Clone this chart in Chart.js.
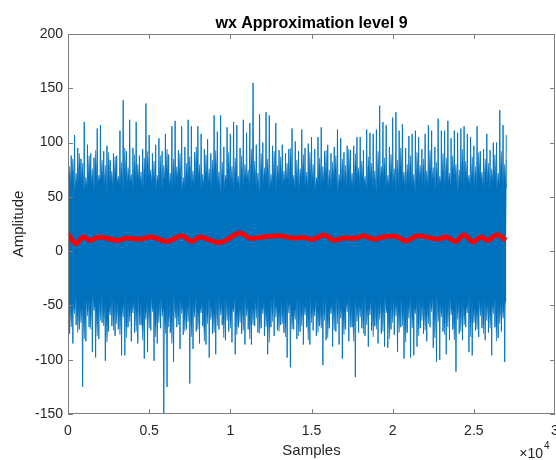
<!DOCTYPE html>
<html>
<head>
  <title>wx Approximation level 9</title>
  <style>
    body { margin: 0; background: #fff; }
    #plot { display: block; }
  </style>
</head>
<body>
  <canvas id="plot" width="556" height="460"></canvas>

  <script src="https://cdn.jsdelivr.net/npm/chart.js"></script>
  <script>
    const titleText = 'wx Approximation level 9';
    const xLabel = 'Samples';
    const yLabel = 'Amplitude';

    // blue signal: outer peak per 200-sample bin (upper), outer trough per bin (lower)
    const binStep = 200;
    const peaksUp = [
      92, 88, 107, 95, 85, 119, 98, 90, 86, 113, 116, 92, 97, 84, 90, 88, 111, 139, 92, 121,
      95, 119, 88, 94, 136, 107, 90, 98, 104, 92, 108, 89, 115, 120, 93, 115, 96, 121, 115, 91,
      115, 108, 94, 103, 90, 125, 110, 125, 96, 114, 108, 119, 116, 95, 121, 109, 118, 155, 98, 126,
      100, 128, 125, 97, 118, 93, 98, 90, 94, 113, 101, 92, 112, 95, 99, 105, 94, 105, 114, 92,
      98, 90, 96, 112, 104, 91, 97, 93, 97, 105, 105, 93, 112, 109, 108, 112, 134, 119, 116, 96,
      123, 128, 111, 117, 95, 106, 108, 111, 105, 94, 108, 116, 111, 96, 122, 111, 111, 120, 104, 111,
      109, 113, 115, 108, 105, 97, 115, 92, 94, 108, 93, 100, 100, 130, 116, 107
    ];
    const peaksDown = [
      -76, -85, -68, -72, -125, -83, -70, -93, -98, -81, -66, -101, -74, -69, -78, -72, -96, -96, -70, -83,
      -75, -85, -68, -99, -93, -73, -101, -85, -71, -150, -125, -75, -102, -70, -90, -77, -72, -122, -90, -74,
      -85, -69, -86, -98, -76, -95, -72, -68, -82, -74, -84, -95, -70, -76, -86, -72, -86, -69, -75, -71,
      -78, -95, -70, -78, -73, -68, -75, -98, -107, -72, -81, -74, -86, -70, -86, -73, -78, -69, -105, -82,
      -71, -88, -74, -86, -99, -72, -83, -70, -116, -75, -71, -78, -88, -73, -69, -85, -76, -88, -89, -72,
      -77, -93, -70, -99, -75, -98, -96, -88, -71, -76, -83, -70, -89, -102, -100, -74, -95, -82, -72, -111,
      -76, -82, -70, -93, -96, -73, -79, -71, -82, -75, -96, -70, -80, -74, -102
    ];

    // dense part of the signal: ragged upper edge (notch, then spike, each bin)
    const notchUp = [
      55, 60, 52, 58, 63, 54, 57, 61, 53, 59, 64, 56, 52, 60, 55, 62, 58, 53, 57, 63,
      54, 59, 61, 52, 56, 64, 58, 55, 60, 53, 62, 57, 54, 59, 63, 52, 56, 61, 58, 55,
      64, 53, 57, 60, 54, 62, 59, 52, 56, 63, 58, 55, 61, 53, 57, 64, 54, 60, 56, 52,
      59, 62, 55, 58, 53, 63, 57, 60, 54, 61, 56, 52, 64, 58, 55, 59, 53, 62, 57, 60,
      54, 56, 63, 52, 59, 61, 55, 58, 53, 64, 57, 60, 54, 62, 56, 52, 59, 63, 55, 58,
      61, 53, 57, 64, 54, 60, 56, 52, 62, 59, 55, 58, 63, 53, 57, 61, 54, 60, 56, 64,
      52, 59, 55, 62, 58, 53, 57, 63, 54, 60, 56, 61, 55, 59, 52, 58
    ];
    const midUp = [
      78, 85, 72, 90, 81, 68, 88, 76, 93, 70, 84, 79, 91, 74, 87, 69, 82, 95, 77, 71,
      89, 80, 73, 86, 92, 75, 83, 70, 88, 79, 94, 72, 85, 78, 90, 68, 81, 87, 74, 96,
      80, 71, 89, 76, 84, 93, 73, 82, 70, 91, 78, 86, 69, 88, 80, 75, 94, 83, 72, 90,
      77, 85, 71, 92, 79, 87, 74, 81, 95, 70, 84, 76, 89, 73, 91, 80, 68, 86, 78, 93,
      75, 82, 88, 71, 85, 79, 94, 72, 90, 77, 83, 69, 87, 81, 74, 92, 78, 86, 70, 89,
      76, 84, 95, 73, 80, 88, 71, 91, 79, 85, 74, 93, 77, 82, 69, 90, 86, 72, 88, 80,
      75, 94, 83, 70, 87, 78, 91, 73, 85, 81, 76, 89, 72, 92, 80, 84
    ];
    // ragged lower edge (spike, then notch, each bin)
    const midDown = [
      -62, -70, -58, -75, -66, -81, -60, -72, -55, -78, -64, -69, -84, -59, -73, -67, -77, -61, -80, -65,
      -57, -74, -68, -82, -63, -71, -56, -79, -66, -60, -76, -70, -85, -62, -68, -58, -74, -65, -79, -61,
      -72, -57, -83, -67, -63, -75, -69, -59, -80, -64, -71, -56, -77, -66, -73, -60, -81, -68, -62, -76,
      -58, -70, -84, -65, -61, -74, -67, -79, -57, -72, -63, -78, -69, -59, -82, -66, -60, -75, -71, -64,
      -80, -58, -73, -67, -62, -77, -56, -70, -83, -65, -61, -76, -68, -59, -79, -72, -63, -74, -57, -81,
      -66, -60, -75, -69, -84, -62, -71, -58, -78, -64, -73, -67, -56, -80, -65, -61, -77, -70, -59, -82,
      -63, -74, -68, -57, -79, -66, -72, -60, -76, -64, -71, -58, -83, -67, -62
    ];
    const notchDown = [
      -42, -47, -39, -44, -50, -41, -45, -38, -48, -43, -40, -46, -51, -39, -44, -42, -49, -37, -45, -47,
      -41, -38, -46, -50, -43, -40, -48, -44, -39, -52, -42, -45, -37, -47, -41, -49, -44, -40, -46, -38,
      -50, -43, -45, -39, -48, -42, -41, -47, -37, -44, -51, -40, -46, -43, -38, -49, -45, -42, -39, -47,
      -44, -50, -41, -38, -46, -43, -48, -40, -45, -52, -39, -42, -47, -44, -37, -49, -41, -46, -43, -40,
      -48, -45, -38, -42, -50, -44, -39, -47, -41, -46, -43, -37, -49, -40, -45, -48, -42, -38, -51, -44,
      -41, -46, -39, -47, -43, -40, -50, -45, -38, -42, -48, -44, -41, -37, -46, -49, -43, -39, -47, -40,
      -45, -42, -50, -38, -44, -48, -41, -46, -39, -43, -47, -40, -45, -42, -49, -44
    ];

    // approximation (red)
    const approxX = [
      0, 493, 924, 1355, 1971, 3018, 3634, 4435, 5174, 6098, 7022, 7638, 8131, 9363, 10595, 11211, 12012, 13059,
      13860, 14476, 15154, 15770, 16386, 16940, 17741, 18234, 18850, 19404, 20205, 20821, 21560, 22792, 23285,
      23901, 24394, 24948, 25441, 25872, 26426, 26981
    ];
    const approxY = [
      15.7, 7, 13, 10, 13, 10, 12, 11, 13, 9, 14, 9, 13, 8, 16.5, 12, 13, 14,
      12, 12.5, 11, 15, 10, 12, 12, 14, 11, 13, 13.5, 9.5, 14, 11, 13,
      9, 15, 8.5, 13, 10, 15, 10
    ];

    const lastSample = 27000;
    const xTicks = { min: 0, max: 30000, step: 5000, scale: 10000 };
    const yTicks = { min: -150, max: 200, step: 50 };

    const blue = '#0072BD';
    const font = '"Liberation Sans", Arial, sans-serif';

    const outer = [];
    peaksUp.forEach((v, i) => {
      outer.push({ x: i * binStep, y: v });
      if (i < peaksDown.length) outer.push({ x: i * binStep + binStep / 2, y: peaksDown[i] });
    });
    const bandTop = [];
    notchUp.forEach((v, i) => {
      bandTop.push({ x: i * binStep, y: v });
      bandTop.push({ x: Math.min(i * binStep + binStep / 2, lastSample), y: midUp[i] });
    });
    const bandBottom = [];
    notchDown.forEach((v, i) => {
      if (i < midDown.length) bandBottom.push({ x: i * binStep, y: midDown[i] });
      bandBottom.push({ x: Math.min(i * binStep + binStep / 2, lastSample), y: v });
    });
    const approx = approxX.map((v, i) => ({ x: v, y: approxY[i] }));

    const frame = {
      id: 'frame',
      afterDraw(chart) {
        const { ctx, chartArea: a, scales: { x, y } } = chart;
        ctx.save();
        ctx.strokeStyle = '#7f7f7f';
        ctx.lineWidth = 1;
        ctx.strokeRect(a.left + 0.5, a.top + 0.5, a.right - a.left - 1, a.bottom - a.top - 1);
        ctx.beginPath();
        x.ticks.forEach(t => {
          const px = Math.min(Math.round(x.getPixelForValue(t.value)), a.right - 1) + 0.5;
          ctx.moveTo(px, a.bottom); ctx.lineTo(px, a.bottom - 5);
          ctx.moveTo(px, a.top); ctx.lineTo(px, a.top + 5);
        });
        y.ticks.forEach(t => {
          const py = Math.round(y.getPixelForValue(t.value)) + 0.5;
          ctx.moveTo(a.left, py); ctx.lineTo(a.left + 5, py);
          ctx.moveTo(a.right, py); ctx.lineTo(a.right - 5, py);
        });
        ctx.stroke();

        ctx.fillStyle = '#000';
        ctx.font = 'bold 16px ' + font;
        ctx.textAlign = 'center';
        ctx.textBaseline = 'alphabetic';
        ctx.fillText(titleText, (a.left + a.right) / 2, 28);

        ctx.fillStyle = '#262626';
        ctx.font = '14px ' + font;
        ctx.textAlign = 'right';
        ctx.fillText('\u00d710', 543, 458);
        ctx.font = '10px ' + font;
        ctx.textAlign = 'left';
        ctx.fillText('4', 544, 449);
        ctx.restore();
      }
    };

    new Chart(document.getElementById('plot'), {
      type: 'line',
      data: {
        datasets: [
          { data: approx, borderColor: '#ff0000', borderWidth: 4.8, tension: 0.4, pointRadius: 0, fill: false, order: 0 },
          { data: outer, borderColor: blue, borderWidth: 0.9, tension: 0, pointRadius: 0, fill: false, order: 1 },
          { data: bandTop, borderColor: blue, borderWidth: 0.5, pointRadius: 0, backgroundColor: blue, fill: '+1', order: 2 },
          { data: bandBottom, borderColor: blue, borderWidth: 0.5, pointRadius: 0, fill: false, order: 3 }
        ]
      },
      options: {
        responsive: false,
        animation: false,
        layout: { padding: { top: 34, right: 1, left: 0, bottom: 0 } },
        plugins: { legend: { display: false }, tooltip: { enabled: false }, title: { display: false } },
        scales: {
          x: {
            type: 'linear',
            min: xTicks.min, max: xTicks.max,
            afterFit: s => { s.height = 46; s.paddingLeft = 0; s.paddingRight = 0; },
            grid: { display: false, drawTicks: false },
            border: { display: false },
            ticks: {
              stepSize: xTicks.step, autoSkip: false, maxRotation: 0, padding: 9,
              color: '#262626', font: { family: font, size: 14 },
              callback: v => String(v / xTicks.scale)
            },
            title: { display: true, text: xLabel, color: '#262626', font: { family: font, size: 15 }, padding: { top: 0, bottom: 0 } }
          },
          y: {
            min: yTicks.min, max: yTicks.max,
            afterFit: s => { s.width = 68; s.paddingTop = 0; s.paddingBottom = 0; },
            grid: { display: false, drawTicks: false },
            border: { display: false },
            ticks: {
              stepSize: yTicks.step, autoSkip: false, padding: 5,
              color: '#262626', font: { family: font, size: 14 }
            },
            title: { display: true, text: yLabel, color: '#262626', font: { family: font, size: 15 }, padding: { top: 10, bottom: 0 } }
          }
        }
      },
      plugins: [frame]
    });
  </script>
</body>
</html>
